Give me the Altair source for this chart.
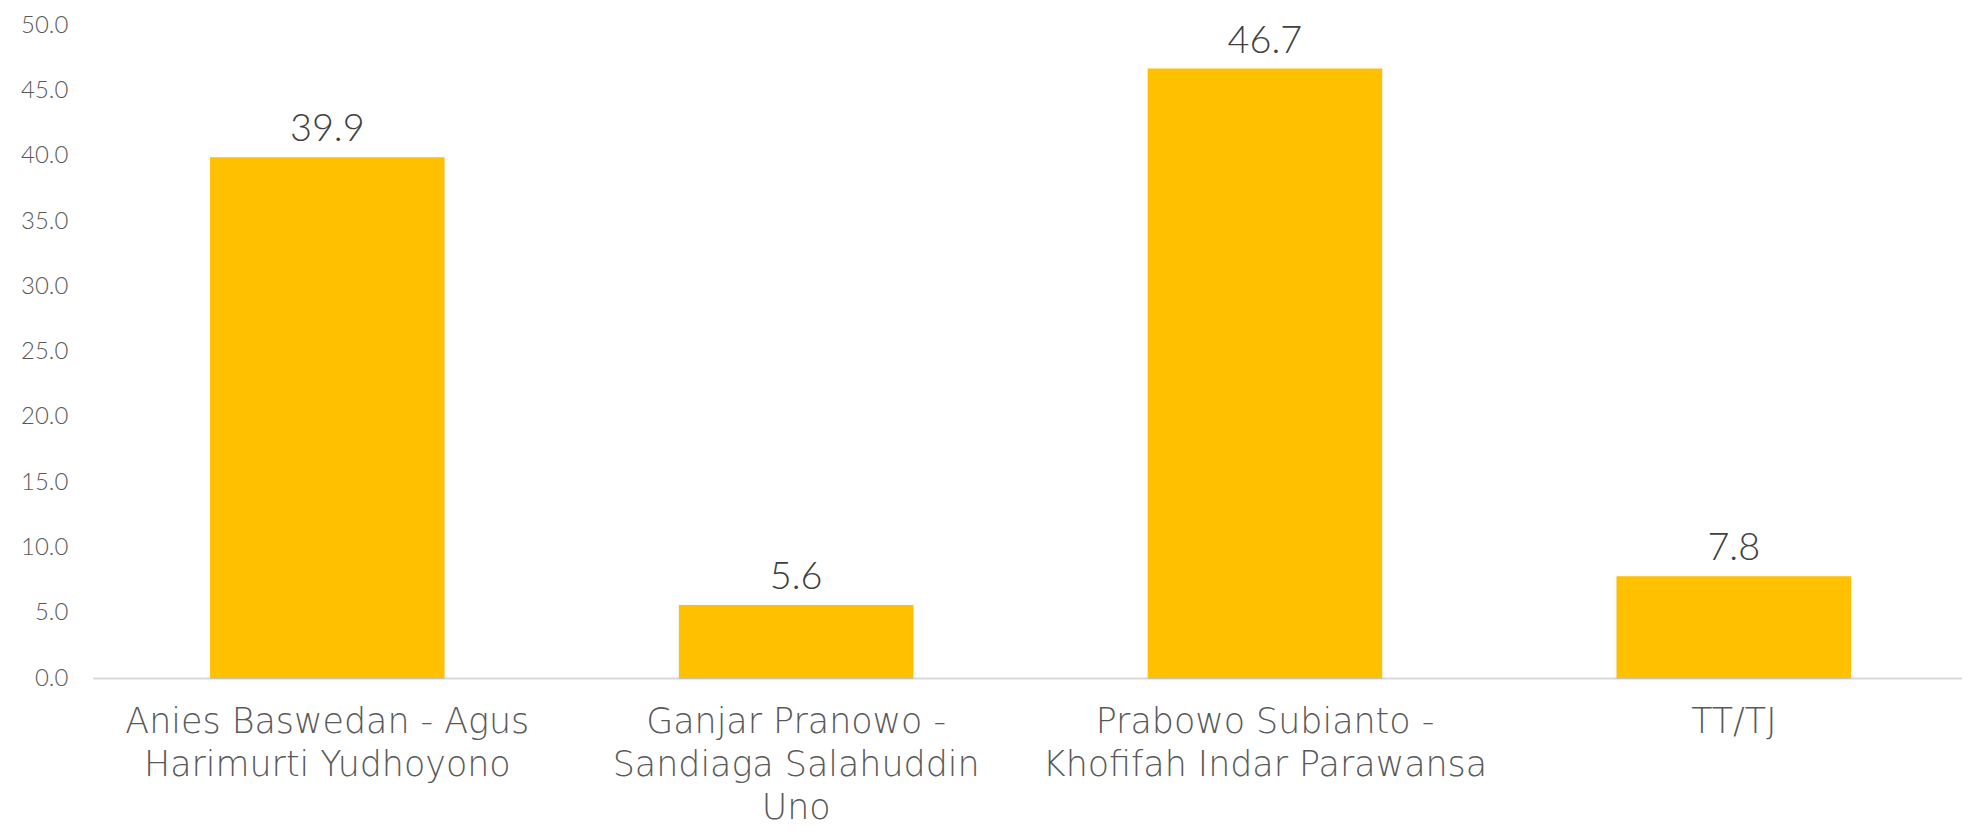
import altair as alt
import pandas as pd

# Data
candidates = [
    "Anies Baswedan - Agus\nHarimurti Yudhoyono",
    "Ganjar Pranowo -\nSandiaga Salahuddin\nUno",
    "Prabowo Subianto -\nKhofifah Indar Parawansa",
    "TT/TJ",
]
values = [39.9, 5.6, 46.7, 7.8]
y_ticks = [0, 5, 10, 15, 20, 25, 30, 35, 40, 45, 50]

df = pd.DataFrame({"candidate": candidates, "value": values})

NUM_FONT = "Lato"
CAT_FONT = "DejaVu Sans"
BAR = "#FFC000"

x_scale = alt.Scale(paddingInner=0.5, paddingOuter=0.2436, align=0.514)
y_scale = alt.Scale(domain=[0, 50], nice=False, zero=True)

x_enc = alt.X(
    "candidate:N",
    sort=None,
    title=None,
    scale=x_scale,
    axis=alt.Axis(
        labelAngle=0,
        labelExpr="split(datum.label, '\\n')",
        labelFont=CAT_FONT,
        labelFontSize=35,
        labelFontWeight=200,
        labelColor="#595959",
        labelLineHeight=43,
        labelPadding=27,
        labelBaseline="top",
        labelLimit=1000,
        ticks=False,
        domainColor="#D9D9D9",
        domainWidth=2,
        grid=False,
    ),
)

y_enc = alt.Y(
    "value:Q",
    title=None,
    scale=y_scale,
    axis=alt.Axis(
        values=y_ticks,
        format=".1f",
        labelFont=NUM_FONT,
        labelFontSize=24,
        labelFontWeight=300,
        labelColor="#595959",
        labelPadding=25,
        ticks=False,
        domain=False,
        grid=False,
    ),
)

shadow = alt.Chart(df).mark_bar(
    color="#000000",
    opacity=0.10,
    stroke="#000000",
    strokeOpacity=0.10,
    strokeWidth=5,
    yOffset=1,
).encode(x=x_enc, y=y_enc)

bars = alt.Chart(df).mark_bar(color=BAR).encode(x=x_enc, y=y_enc)

labels = alt.Chart(df).mark_text(
    baseline="alphabetic",
    align="center",
    dy=-16,
    font=NUM_FONT,
    fontSize=38,
    fontWeight=300,
    color="#404040",
).encode(x=x_enc, y=y_enc, text=alt.Text("value:Q", format=".1f"))

chart = (
    alt.layer(shadow, bars, labels)
    .properties(
        width=1876,
        height=655,
        background="white",
        autosize=alt.AutoSizeParams(type="none"),
        padding={"left": 85, "top": 16, "right": 0, "bottom": 149},
    )
    .configure_view(stroke="transparent", strokeWidth=0)
)

chart.save("out.html", embed_options={"renderer": "svg", "actions": False})
